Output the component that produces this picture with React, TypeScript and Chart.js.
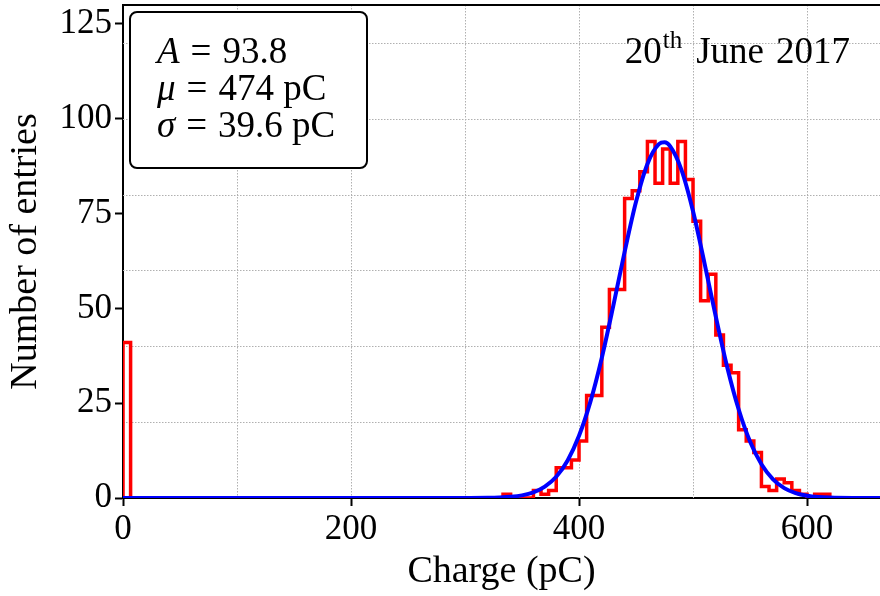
import React, { useEffect, useRef } from "react";
import { Chart, registerables } from "chart.js";

Chart.register(...registerables);

// ---------- data ----------
const BIN_WIDTH = 20 / 3; // pC per bin
// counts per bin, bin k spans [k*BIN_WIDTH, (k+1)*BIN_WIDTH]
const binCounts = [
  41, 0, 0, 0, 0, 0, 0, 0, 0, 0,
  0, 0, 0, 0, 0, 0, 0, 0, 0, 0,
  0, 0, 0, 0, 0, 0, 0, 0, 0, 0,
  0, 0, 0, 0, 0, 0, 0, 0, 0, 0,
  0, 0, 0, 0, 0, 0, 0, 0, 0, 0,
  1, 0, 0, 0, 2, 1, 2, 8, 8, 10,
  15, 27, 27, 45, 55, 55, 79, 81, 86, 94,
  83, 92, 83, 94, 84, 73, 52, 59, 43, 35,
  33, 18, 15, 12, 3, 2, 5, 4, 2, 1,
  0, 1, 1, 0, 0, 0, 0, 0, 0, 0,
];

// fitted curve
const fitX = [0, 100, 200, 280, 300, 320, 330, 340, 350, 360, 370, 380, 390, 400, 410, 420, 430, 440, 450, 460, 470, 475, 480, 490, 500, 510, 520, 530, 540, 550, 560, 570, 580, 590, 600, 610, 620, 640, 664];
const fitY = [0, 0, 0, 0, 0.01, 0.05, 0.13, 0.31, 0.7, 1.5, 3.0, 5.6, 9.9, 16.4, 25.4, 37.0, 50.6, 64.9, 78.1, 88.1, 93.3, 93.8, 92.7, 86.4, 75.6, 62.0, 47.8, 34.5, 23.4, 14.9, 8.9, 5.0, 2.6, 1.3, 0.6, 0.26, 0.1, 0.01, 0];

const xTicks = [0, 200, 400, 600];
const yTicks = [0, 25, 50, 75, 100, 125];
const xGrid = [100, 200, 300, 400, 500, 600];
const yGrid = [20, 40, 60, 80, 100, 120];
const X_MIN = 0;
const X_MAX = 664;
const Y_MIN = 0;
const Y_MAX = 130;

const xTitle = "Charge (pC)";
const yTitle = "Number of entries";
const fitLines = [
  { sym: "A", value: "93.8" },
  { sym: "\u03bc", value: "474 pC" },
  { sym: "\u03c3", value: "39.6 pC" },
];
const dateDay = "20";
const dateSup = "th";
const dateMonth = "June";
const dateYear = "2017";

const FONT = '"Liberation Serif", "Times New Roman", serif';
const FS = 35;
const TITLE_FS = 38;
const TEXT_FS = 37;

const gridPlugin = {
  id: "customGrid",
  beforeDatasetsDraw(chart: any) {
    const { ctx, chartArea } = chart;
    const xs = chart.scales.x;
    const ys = chart.scales.y;
    ctx.save();
    ctx.strokeStyle = "#b0b0b0";
    ctx.lineWidth = 1;
    ctx.setLineDash([1.5, 1.5]);
    xGrid.forEach((v) => {
      const px = Math.round(xs.getPixelForValue(v)) + 0.5;
      ctx.beginPath();
      ctx.moveTo(px, chartArea.top);
      ctx.lineTo(px, chartArea.bottom);
      ctx.stroke();
    });
    yGrid.forEach((v) => {
      const py = Math.round(ys.getPixelForValue(v)) + 0.5;
      ctx.beginPath();
      ctx.moveTo(chartArea.left, py);
      ctx.lineTo(chartArea.right, py);
      ctx.stroke();
    });
    ctx.restore();
  },
  afterDraw(chart: any) {
    const { ctx, chartArea } = chart;
    ctx.save();
    // top spine
    ctx.strokeStyle = "#000";
    ctx.lineWidth = 2;
    ctx.beginPath();
    ctx.moveTo(chartArea.left, chartArea.top);
    ctx.lineTo(chartArea.right, chartArea.top);
    ctx.stroke();

    // fit parameter box
    const bx = chartArea.left + 7;
    const by = chartArea.top + 7;
    const bw = 237;
    const bh = 156;
    ctx.beginPath();
    (ctx as any).roundRect(bx, by, bw, bh, 7);
    ctx.fillStyle = "#fff";
    ctx.fill();
    ctx.lineWidth = 2;
    ctx.strokeStyle = "#000";
    ctx.stroke();

    ctx.fillStyle = "#000";
    ctx.textBaseline = "alphabetic";
    ctx.textAlign = "left";
    fitLines.forEach((ln, i) => {
      let tx = bx + 27;
      const ty = by + 51 + i * 37;
      ctx.font = `italic ${TEXT_FS}px ${FONT}`;
      ctx.fillText(ln.sym, tx, ty);
      tx += ctx.measureText(ln.sym).width + 11;
      ctx.font = `${TEXT_FS}px ${FONT}`;
      ctx.fillText("=", tx, ty);
      tx += ctx.measureText("=").width + 11;
      ctx.fillText(ln.value, tx, ty);
    });

    // date label
    const base = chartArea.top + 58;
    const right = chartArea.right - 30;
    ctx.font = `${TEXT_FS}px ${FONT}`;
    ctx.textAlign = "right";
    ctx.fillText(dateYear, right, base);
    const yearW = ctx.measureText(dateYear).width;
    const monthRight = right - yearW - 12;
    ctx.fillText(dateMonth, monthRight, base);
    const monthW = ctx.measureText(dateMonth).width;
    ctx.font = `25px ${FONT}`;
    const supRight = monthRight - monthW - 14;
    ctx.fillText(dateSup, supRight, base - 15);
    const supW = ctx.measureText(dateSup).width;
    ctx.font = `${TEXT_FS}px ${FONT}`;
    ctx.fillText(dateDay, supRight - supW - 1, base);
    ctx.restore();
  },
};

export default function App() {
  const ref = useRef<HTMLCanvasElement | null>(null);

  useEffect(() => {
    if (!ref.current) return;
    const histPoints: { x: number; y: number }[] = [{ x: 0, y: 0 }];
    binCounts.forEach((c, k) => histPoints.push({ x: k * BIN_WIDTH, y: c }));
    histPoints.push({ x: binCounts.length * BIN_WIDTH, y: 0 });
    const fitPoints = fitX.map((x, i) => ({ x, y: fitY[i] }));

    const chart = new Chart(ref.current, {
      type: "line",
      data: {
        datasets: [
          {
            label: "fit",
            data: fitPoints,
            borderColor: "#0000ff",
            borderWidth: 4,
            pointRadius: 0,
            cubicInterpolationMode: "monotone",
            fill: false,
          },
          {
            label: "hist",
            data: histPoints,
            borderColor: "#ff0000",
            borderWidth: 3.5,
            pointRadius: 0,
            stepped: "before",
            fill: false,
          },
        ],
      },
      options: {
        animation: false,
        responsive: false,
        events: [],
        layout: { padding: { left: 0, right: 0, top: 5, bottom: 0 } },
        plugins: {
          legend: { display: false },
          tooltip: { enabled: false },
        },
        scales: {
          x: {
            type: "linear",
            min: X_MIN,
            max: X_MAX,
            z: 1,
            afterBuildTicks: (axis: any) => {
              axis.ticks = xTicks.map((v) => ({ value: v }));
            },
            afterFit: (axis: any) => {
              axis.height = 98;
              axis.paddingLeft = 0;
              axis.paddingRight = 0;
            },
            ticks: {
              color: "#000",
              font: { family: FONT, size: FS },
              padding: 3,
              maxRotation: 0,
              autoSkip: false,
            },
            grid: {
              drawOnChartArea: false,
              drawTicks: true,
              tickLength: 8,
              tickWidth: 2,
              tickColor: "#000",
            },
            border: { display: true, color: "#000", width: 2 },
            title: {
              display: true,
              text: xTitle,
              color: "#000",
              font: { family: FONT, size: TITLE_FS },
              padding: { top: 0, bottom: 1 },
            },
          },
          y: {
            type: "linear",
            min: Y_MIN,
            max: Y_MAX,
            z: 1,
            afterBuildTicks: (axis: any) => {
              axis.ticks = yTicks.map((v) => ({ value: v }));
            },
            afterFit: (axis: any) => {
              axis.width = 123;
              axis.paddingTop = 0;
              axis.paddingBottom = 0;
            },
            ticks: {
              color: "#000",
              font: { family: FONT, size: FS },
              padding: 3,
              autoSkip: false,
            },
            grid: {
              drawOnChartArea: false,
              drawTicks: true,
              tickLength: 8,
              tickWidth: 2,
              tickColor: "#000",
            },
            border: { display: true, color: "#000", width: 2 },
            title: {
              display: true,
              text: yTitle,
              color: "#000",
              font: { family: FONT, size: TITLE_FS },
              padding: { top: 3, bottom: 0 },
            },
          },
        },
      },
      plugins: [gridPlugin],
    });
    return () => chart.destroy();
  }, []);

  return (
    <div style={{ position: "absolute", left: 0, top: 0, width: 880, height: 596, background: "#fff" }}>
      <canvas ref={ref} width={880} height={596} style={{ display: "block" }} />
    </div>
  );
}
